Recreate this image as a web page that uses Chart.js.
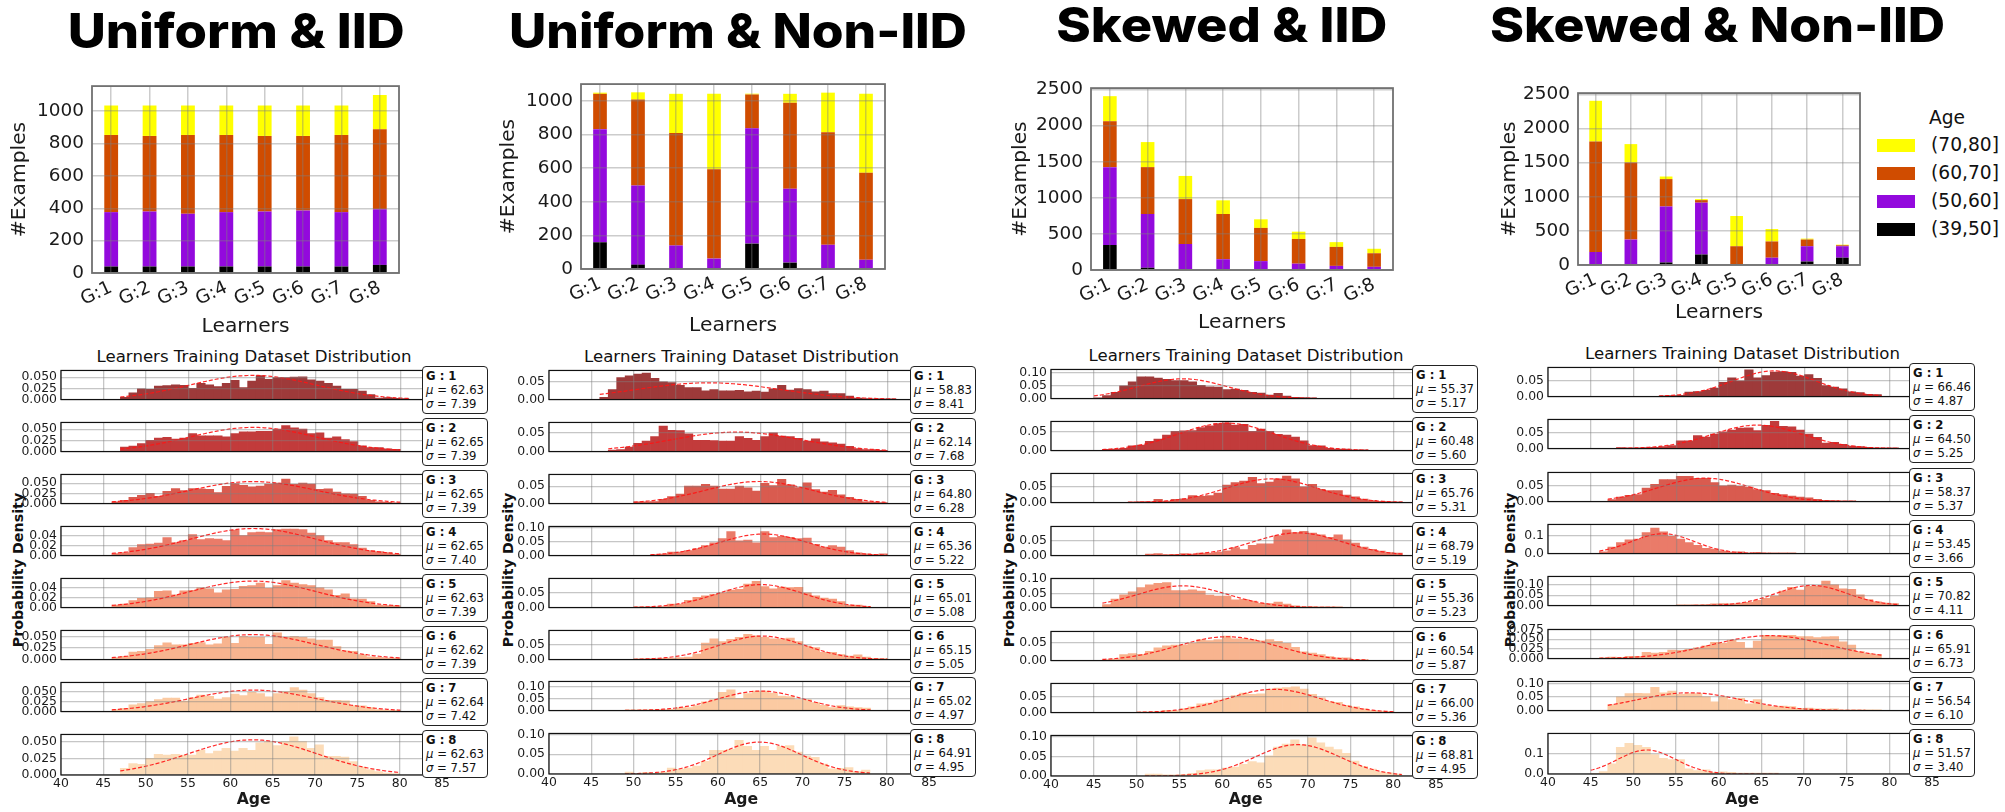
<!DOCTYPE html>
<html>
<head>
<meta charset="utf-8">
<script src="https://cdn.jsdelivr.net/npm/chart.js@4.4.1/dist/chart.umd.min.js"></script>
<style>
  body { margin: 0; background: #fff; }
  #page { position: relative; width: 2005px; height: 812px; overflow: hidden; font-family: 'DejaVu Sans'; color: #111; }
  canvas { position: absolute; }
  .title { position: absolute; left: 0; top: 0; white-space: nowrap; font-family: Inter; font-weight: 800; font-size: 48px; line-height: 48px; color: #000; transform-origin: center; }
  .sub { position: absolute; font-size: 16.4px; line-height: 18px; white-space: nowrap; transform: translateX(-50%); }
  .ylab { position: absolute; font-weight: bold; font-size: 14.2px; line-height: 16px; white-space: nowrap; transform: translate(-50%, -50%) rotate(-90deg); }
  .box { position: absolute; width: 66px; box-sizing: border-box; border: 1px solid #222; border-radius: 4px; background: #fff; font-size: 12px; line-height: 14px; padding: 2px 0 0 3px; white-space: nowrap; }
  .legend { position: absolute; font-size: 18.5px; line-height: 22px; white-space: nowrap; }
  .patch { position: absolute; width: 38px; height: 13px; }
</style>
</head>
<body>
<div id="page"></div>
<script>
// ---------- data ----------
const panelTitles = ['Uniform & IID', 'Uniform & Non-IID', 'Skewed & IID', 'Skewed & Non-IID'];
const learners = ['G:1', 'G:2', 'G:3', 'G:4', 'G:5', 'G:6', 'G:7', 'G:8'];
const ageGroups = ['(39,50]', '(50,60]', '(60,70]', '(70,80]'];

// #Examples per learner and age group
const uniIid39 = [40, 40, 40, 40, 40, 40, 40, 50];
const uniIid50 = [336, 340, 326, 336, 340, 346, 336, 344];
const uniIid60 = [477, 467, 487, 477, 467, 461, 477, 494];
const uniIid70 = [182, 188, 182, 182, 188, 188, 182, 212];

const uniNon39 = [159, 26, 0, 0, 151, 38, 0, 0];
const uniNon50 = [673, 471, 140, 62, 686, 440, 144, 55];
const uniNon60 = [210, 511, 669, 532, 201, 511, 669, 518];
const uniNon70 = [7, 43, 233, 448, 5, 53, 236, 469];

const skwIid39 = [346, 31, 0, 0, 0, 0, 0, 0];
const skwIid50 = [1079, 745, 360, 149, 123, 88, 57, 44];
const skwIid60 = [636, 649, 622, 627, 460, 342, 263, 188];
const skwIid70 = [347, 347, 321, 189, 119, 101, 66, 62];

const skwNon39 = [0, 0, 37, 154, 0, 0, 51, 107];
const skwNon50 = [191, 373, 821, 760, 0, 107, 224, 168];
const skwNon60 = [1619, 1129, 401, 37, 275, 238, 98, 14];
const skwNon70 = [597, 270, 38, 15, 443, 182, 14, 9];

const barYMax = [1155, 1100, 2520, 2520];
const barYTicks = [
  [0, 200, 400, 600, 800, 1000],
  [0, 200, 400, 600, 800, 1000],
  [0, 500, 1000, 1500, 2000, 2500],
  [0, 500, 1000, 1500, 2000, 2500]
];

// age histograms (density per 1-year bin), first bin start age, fit parameters
const ageTicks = [40, 45, 50, 55, 60, 65, 70, 75, 80, 85];

const uniIidStart = [47, 47, 46, 46, 46, 46, 46, 47];
const uniIidDens = [
  [0.005,0.015,0.024,0.023,0.03,0.031,0.033,0.032,0.025,0.036,0.033,0.029,0.036,0.043,0.027,0.041,0.0535,0.045,0.049,0.049,0.05,0.051,0.044,0.041,0.036,0.03,0.023,0.023,0.019,0.011,0.003,0.0045,0.0025,0.002],
  [0.01,0.012,0.018,0.025,0.03,0.032,0.028,0.03,0.04,0.035,0.035,0.035,0.033,0.04,0.044,0.044,0.045,0.045,0.05,0.058,0.053,0.05,0.04,0.042,0.03,0.033,0.027,0.022,0.013,0.009,0.009,0.006,0.005],
  [0.004,0.008,0.015,0.02,0.025,0.018,0.03,0.037,0.032,0.037,0.036,0.035,0.027,0.042,0.049,0.045,0.041,0.043,0.048,0.05,0.06,0.047,0.05,0.048,0.035,0.036,0.028,0.024,0.023,0.018,0.008,0.004,0.003,0.002],
  [0.004,0.006,0.016,0.022,0.023,0.025,0.036,0.026,0.03,0.042,0.032,0.034,0.033,0.03,0.051,0.04,0.046,0.047,0.046,0.052,0.053,0.053,0.052,0.045,0.04,0.03,0.026,0.026,0.022,0.015,0.01,0.008,0.006,0.003],
  [0.005,0.007,0.014,0.019,0.02,0.033,0.034,0.026,0.034,0.035,0.04,0.038,0.03,0.036,0.037,0.043,0.045,0.05,0.039,0.045,0.055,0.05,0.047,0.045,0.04,0.036,0.025,0.028,0.018,0.017,0.012,0.005,0.004,0.004],
  [0.004,0.007,0.016,0.018,0.022,0.03,0.036,0.032,0.032,0.035,0.037,0.032,0.034,0.048,0.035,0.05,0.048,0.048,0.033,0.058,0.048,0.05,0.048,0.045,0.042,0.042,0.028,0.019,0.018,0.011,0.006,0.005,0.003,0.003],
  [0.005,0.008,0.017,0.02,0.025,0.03,0.034,0.034,0.026,0.035,0.041,0.038,0.031,0.035,0.044,0.04,0.048,0.045,0.037,0.045,0.05,0.06,0.054,0.045,0.035,0.028,0.028,0.027,0.015,0.014,0.01,0.005,0.003,0.003],
  [0.01,0.017,0.016,0.025,0.031,0.03,0.031,0.03,0.03,0.037,0.032,0.036,0.04,0.036,0.04,0.037,0.048,0.05,0.044,0.05,0.057,0.05,0.04,0.045,0.028,0.028,0.027,0.02,0.012,0.008,0.005,0.003,0.002]
];
const uniIidMu = [62.63, 62.65, 62.65, 62.65, 62.63, 62.62, 62.64, 62.63];
const uniIidSigma = [7.39, 7.39, 7.39, 7.40, 7.39, 7.39, 7.42, 7.57];
const uniIidYMax = [0.065, 0.065, 0.0714, 0.058, 0.0593, 0.063, 0.0728, 0.0607];
const uniIidYStep = [0.025, 0.025, 0.025, 0.02, 0.02, 0.025, 0.025, 0.025];
const uniIidYDec = [3, 3, 3, 2, 2, 3, 3, 3];

const uniNonStart = [46, 47, 50, 52, 50, 50, 49, 49];
const uniNonDens = [
  [0.006,0.028,0.062,0.067,0.072,0.075,0.06,0.05,0.048,0.04,0.034,0.034,0.025,0.028,0.025,0.025,0.026,0.022,0.024,0.021,0.03,0.04,0.027,0.031,0.028,0.022,0.024,0.017,0.017,0.01,0.004,0.003,0.002,0.002,0.002],
  [0.004,0.005,0.012,0.022,0.028,0.04,0.068,0.057,0.056,0.047,0.03,0.03,0.029,0.028,0.028,0.04,0.035,0.03,0.04,0.05,0.041,0.04,0.035,0.028,0.034,0.026,0.023,0.02,0.014,0.008,0.005,0.005,0.003],
  [0.005,0.005,0.006,0.012,0.02,0.027,0.05,0.05,0.055,0.05,0.042,0.042,0.05,0.045,0.036,0.058,0.052,0.07,0.054,0.046,0.06,0.04,0.033,0.038,0.025,0.018,0.012,0.005,0.004,0.003],
  [0.003,0.005,0.012,0.012,0.018,0.025,0.035,0.045,0.06,0.085,0.052,0.055,0.045,0.085,0.064,0.068,0.065,0.06,0.062,0.04,0.03,0.035,0.03,0.018,0.01,0.006,0.004,0.006],
  [0.002,0.002,0.002,0.003,0.012,0.012,0.025,0.035,0.04,0.045,0.05,0.06,0.062,0.08,0.09,0.072,0.064,0.07,0.068,0.069,0.05,0.04,0.032,0.029,0.02,0.008,0.008,0.004],
  [0.002,0.003,0.003,0.004,0.005,0.007,0.008,0.018,0.055,0.07,0.06,0.068,0.075,0.085,0.08,0.075,0.07,0.07,0.072,0.06,0.045,0.04,0.024,0.024,0.017,0.012,0.016,0.008,0.004,0.003],
  [0.002,0.003,0.003,0.003,0.004,0.005,0.012,0.012,0.02,0.036,0.045,0.075,0.085,0.05,0.07,0.08,0.08,0.072,0.06,0.058,0.045,0.045,0.033,0.022,0.012,0.02,0.015,0.012,0.01],
  [0.005,0.002,0.004,0.001,0.005,0.015,0.012,0.015,0.02,0.032,0.06,0.06,0.062,0.085,0.07,0.06,0.07,0.06,0.07,0.072,0.055,0.045,0.042,0.025,0.013,0.014,0.016,0.006,0.01]
];
const uniNonMu = [58.83, 62.14, 64.80, 65.36, 65.01, 65.15, 65.02, 64.91];
const uniNonSigma = [8.41, 7.68, 6.28, 5.22, 5.08, 5.05, 4.97, 4.95];
const uniNonYMax = [0.0823, 0.0777, 0.0838, 0.1032, 0.0995, 0.0978, 0.12, 0.1023];
const uniNonYStep = [0.05, 0.05, 0.05, 0.05, 0.05, 0.05, 0.05, 0.05];
const uniNonYDec = [2, 2, 2, 2, 2, 2, 2, 2];

const skwIidStart = [45, 46, 49, 51, 46, 46, 50, 51];
const skwIidDens = [
  [0.002,0.012,0.024,0.05,0.065,0.085,0.085,0.08,0.075,0.07,0.07,0.065,0.052,0.046,0.045,0.035,0.037,0.032,0.024,0.021,0.014,0.02,0.01,0.005,0.004,0.003],
  [0.003,0.004,0.006,0.012,0.014,0.024,0.03,0.04,0.05,0.051,0.052,0.06,0.064,0.07,0.072,0.066,0.068,0.05,0.056,0.05,0.042,0.04,0.035,0.025,0.013,0.012,0.006,0.004,0.004,0.002,0.002],
  [0.002,0.003,0.003,0.01,0.005,0.01,0.012,0.022,0.02,0.022,0.03,0.055,0.063,0.068,0.08,0.06,0.065,0.075,0.084,0.075,0.05,0.058,0.042,0.038,0.038,0.024,0.018,0.011,0.006,0.004,0.003,0.002],
  [0.005,0.007,0.003,0.004,0.007,0.005,0.008,0.008,0.012,0.016,0.027,0.02,0.035,0.04,0.04,0.068,0.087,0.078,0.082,0.076,0.07,0.062,0.07,0.053,0.042,0.029,0.021,0.015,0.01,0.008],
  [0.01,0.03,0.045,0.055,0.07,0.08,0.085,0.088,0.06,0.06,0.062,0.058,0.044,0.04,0.04,0.027,0.029,0.023,0.015,0.014,0.019,0.012,0.006,0.003,0.003,0.002,0.0015,0.001],
  [0.003,0.004,0.017,0.02,0.018,0.026,0.036,0.042,0.044,0.045,0.05,0.06,0.057,0.06,0.07,0.062,0.063,0.06,0.056,0.06,0.055,0.049,0.038,0.025,0.021,0.017,0.011,0.008,0.008,0.003,0.003],
  [0.002,0.002,0.004,0.007,0.006,0.012,0.018,0.028,0.03,0.04,0.045,0.054,0.062,0.058,0.06,0.075,0.078,0.08,0.082,0.075,0.058,0.047,0.035,0.033,0.023,0.018,0.012,0.007,0.005,0.004],
  [0.005,0.005,0.003,0.003,0.004,0.007,0.014,0.016,0.016,0.02,0.023,0.03,0.037,0.034,0.052,0.074,0.082,0.093,0.08,0.098,0.085,0.074,0.068,0.058,0.038,0.025,0.018,0.011,0.008,0.005]
];
const skwIidMu = [55.37, 60.48, 65.76, 68.79, 55.36, 60.54, 66.00, 68.81];
const skwIidSigma = [5.17, 5.60, 5.31, 5.19, 5.23, 5.87, 5.36, 4.95];
const skwIidYMax = [0.1138, 0.0756, 0.0922, 0.0985, 0.1023, 0.083, 0.093, 0.104];
const skwIidYStep = [0.05, 0.05, 0.05, 0.05, 0.05, 0.05, 0.05, 0.05];
const skwIidYDec = [2, 2, 2, 2, 2, 2, 2, 2];

const skwNonStart = [53, 48, 47, 46, 55, 46, 47, 45];
const skwNonDens = [
  [0.002,0.003,0.004,0.014,0.016,0.02,0.027,0.045,0.06,0.05,0.085,0.06,0.067,0.078,0.08,0.077,0.065,0.07,0.058,0.035,0.03,0.025,0.015,0.013,0.007,0.006],
  [0.003,0.002,0.002,0.003,0.004,0.006,0.01,0.025,0.025,0.042,0.037,0.047,0.054,0.06,0.066,0.067,0.058,0.075,0.088,0.072,0.07,0.06,0.047,0.036,0.018,0.02,0.014,0.008,0.006,0.004,0.002,0.002,0.002],
  [0.006,0.014,0.02,0.022,0.043,0.055,0.07,0.07,0.08,0.08,0.074,0.074,0.06,0.05,0.052,0.048,0.046,0.038,0.035,0.026,0.022,0.017,0.014,0.012,0.007,0.004,0.003,0.002,0.002],
  [0.01,0.035,0.06,0.075,0.08,0.115,0.14,0.12,0.095,0.08,0.06,0.045,0.028,0.025,0.014,0.008,0.01,0.004,0.006,0.004,0.004,0.003,0.003],
  [0.002,0.002,0.002,0.005,0.008,0.009,0.008,0.012,0.016,0.025,0.035,0.045,0.07,0.088,0.075,0.093,0.095,0.118,0.1,0.08,0.078,0.052,0.029,0.018,0.012,0.01],
  [0.002,0.004,0.003,0.006,0.006,0.016,0.014,0.016,0.022,0.021,0.024,0.028,0.033,0.042,0.04,0.048,0.042,0.027,0.045,0.06,0.058,0.06,0.06,0.057,0.057,0.054,0.056,0.057,0.043,0.035,0.018,0.013,0.01],
  [0.022,0.05,0.062,0.063,0.062,0.085,0.065,0.072,0.06,0.062,0.062,0.05,0.032,0.05,0.04,0.045,0.025,0.04,0.02,0.015,0.016,0.015,0.008,0.009,0.006,0.005,0.006,0.003,0.003,0.003,0.003,0.003],
  [0.002,0.012,0.05,0.13,0.15,0.14,0.13,0.095,0.076,0.07,0.07,0.025,0.017,0.02,0.008,0.01,0.008,0.005,0.004,0.004,0.004,0.004]
];
const skwNonMu = [66.46, 64.50, 58.37, 53.45, 70.82, 65.91, 56.54, 51.57];
const skwNonSigma = [4.87, 5.25, 5.37, 3.66, 4.11, 6.73, 6.10, 3.40];
const skwNonYMax = [0.0929, 0.0943, 0.0924, 0.16, 0.14, 0.0753, 0.107, 0.198];
const skwNonYStep = [0.05, 0.05, 0.05, 0.1, 0.05, 0.025, 0.05, 0.1];
const skwNonYDec = [2, 2, 2, 1, 2, 3, 2, 1];

// ---------- styling / layout ----------
Chart.defaults.font.family = 'DejaVu Sans';
Chart.defaults.color = '#1a1a1a';
const ageColors = ['#000000', 'rgb(147,9,221)', 'rgb(208,76,0)', '#ffff00'];
const rowColors = ['#9e3a3a', '#c23b3b', '#d95b4f', '#ea7b69', '#f39a7b', '#f8b48f', '#fbcaa2', '#fcdcb8'];

const page = document.getElementById('page');

// font sizes chosen so that sample strings get the widths measured on the original
const mctx = document.createElement('canvas').getContext('2d');
function fitSize(text, size, weight, target) {
  mctx.font = weight + ' ' + size + 'px DejaVu Sans';
  return size * target / mctx.measureText(text).width;
}
function fitEl(el, target) {
  const w = el.getBoundingClientRect().width;
  const fs = parseFloat(getComputedStyle(el).fontSize);
  return fs * target / w;
}
const topTickSize = fitSize('1000', 18.5, 'normal', 47);
const topTitleSize = fitSize('Learners', 20, 'normal', 88);
const histTickSize = fitSize('0.050', 12.5, 'normal', 35.6);
const ageTitleSize = fitSize('Age', 16, 'bold', 34);

const framePlugin = {
  id: 'frame',
  afterDraw(chart) {
    const o = chart.config.options.plugins.frame;
    const a = chart.chartArea;
    const ctx = chart.ctx;
    ctx.save();
    ctx.strokeStyle = o.color;
    ctx.lineWidth = o.width;
    ctx.strokeRect(a.left, a.top, a.right - a.left, a.bottom - a.top);
    ctx.restore();
  }
};

function addCanvas(left, top, w, h) {
  const c = document.createElement('canvas');
  c.width = w; c.height = h;
  c.style.left = left + 'px'; c.style.top = top + 'px';
  c.style.width = w + 'px'; c.style.height = h + 'px';
  page.appendChild(c);
  return c;
}

function addDiv(cls, html, css) {
  const d = document.createElement('div');
  d.className = cls;
  d.innerHTML = html;
  Object.assign(d.style, css);
  page.appendChild(d);
  return d;
}

// ---------- stacked bar charts ----------
const barGroups = [
  [uniIid39, uniIid50, uniIid60, uniIid70],
  [uniNon39, uniNon50, uniNon60, uniNon70],
  [skwIid39, skwIid50, skwIid60, skwIid70],
  [skwNon39, skwNon50, skwNon60, skwNon70]
];
const barArea = [[92, 77, 399, 273], [581, 75, 885, 269], [1091, 79, 1393, 270], [1578, 84, 1860, 265]];
const yTitleX = [20, 509, 1021, 1510];
const xTitleY = [327, 326, 323, 313];

barGroups.forEach((groups, col) => {
  const [l, t, r, b] = barArea[col];
  const cl = l - 92, ct = t - 10;
  const w = 92 + (r - l) + 6, h = 10 + (b - t) + 70;
  const canvas = addCanvas(cl, ct, w, h);
  const tickFont = { size: topTickSize };
  const lh = topTitleSize * 1.2 / 2;
  new Chart(canvas, {
    type: 'bar',
    data: {
      labels: learners,
      datasets: groups.map((vals, k) => ({
        label: ageGroups[k], data: vals, backgroundColor: ageColors[k],
        borderWidth: 0, barPercentage: 0.36, categoryPercentage: 1
      }))
    },
    options: {
      responsive: false, animation: false, devicePixelRatio: 1,
      layout: { padding: { top: 10, right: 6, left: 0, bottom: 0 } },
      plugins: { legend: { display: false }, tooltip: { enabled: false }, frame: { color: '#707070', width: 1.8 } },
      scales: {
        x: {
          stacked: true, offset: true,
          grid: { offset: false, color: 'rgba(128,128,128,0.4)', lineWidth: 1.5, z: 1, drawTicks: false },
          border: { display: false },
          ticks: { minRotation: 25, maxRotation: 25, font: tickFont, padding: 4, autoSkip: false },
          title: { display: true, text: 'Learners', font: { size: topTitleSize }, padding: { top: 0, bottom: b + 70 - lh - xTitleY[col] } },
          afterFit: s => { s.height = 70; }
        },
        y: {
          stacked: true, min: 0, max: barYMax[col],
          grid: { color: 'rgba(128,128,128,0.4)', lineWidth: 1.5, z: 1, drawTicks: false },
          border: { display: false },
          afterBuildTicks: s => { s.ticks = barYTicks[col].map(v => ({ value: v })); },
          ticks: { font: tickFont, padding: 8, autoSkip: false, callback: v => String(v) },
          title: { display: true, text: '#Examples', font: { size: topTitleSize }, padding: { top: yTitleX[col] - cl - lh, bottom: 0 } },
          afterFit: s => { s.width = 92; }
        }
      }
    },
    plugins: [framePlugin]
  });
});

// legend
const legTitle = addDiv('legend', 'Age', { left: '1929px', top: '107px' });
const legItems = [legTitle];
[3, 2, 1, 0].forEach((k, j) => {
  const cy = 145 + j * 28;
  addDiv('patch', '', { left: '1877px', top: (cy - 6.5) + 'px', background: ageColors[k] });
  legItems.push(addDiv('legend', ageGroups[k], { left: '1931px', top: (cy - 11) + 'px' }));
});
const legSize = fitEl(legItems[1], 68);
legItems.forEach(el => { el.style.fontSize = legSize + 'px'; });

// ---------- histograms ----------
const histStart = [uniIidStart, uniNonStart, skwIidStart, skwNonStart];
const histDens = [uniIidDens, uniNonDens, skwIidDens, skwNonDens];
const histMu = [uniIidMu, uniNonMu, skwIidMu, skwNonMu];
const histSigma = [uniIidSigma, uniNonSigma, skwIidSigma, skwNonSigma];
const histYMax = [uniIidYMax, uniNonYMax, skwIidYMax, skwNonYMax];
const histYStep = [uniIidYStep, uniNonYStep, skwIidYStep, skwNonYStep];
const histYDec = [uniIidYDec, uniNonYDec, skwIidYDec, skwNonYDec];

const histLeft = [61, 549, 1051, 1548];
const histPxPerYear = [8.48, 8.47, 8.57, 8.54];
const histTop0 = [367, 367, 365.5, 364];
const histPitch = [52, 51.9, 52.4, 52.3];
const histH = 44;
const subs = [], ylabs = [], boxLines = [], boxes = [];

for (let col = 0; col < 4; col++) {
  const L = histLeft[col];
  const areaW = Math.round(45.5 * histPxPerYear[col]);
  subs.push(addDiv('sub', 'Learners Training Dataset Distribution', { left: (L + areaW / 2) + 'px', top: (histTop0[col] - 19) + 'px' }));
  ylabs.push(addDiv('ylab', 'Probability Density', { left: [18, 508, 1009, 1510][col] + 'px', top: '570px' }));

  for (let i = 0; i < 8; i++) {
    const isBottom = i === 7;
    const top = Math.round(histTop0[col] + i * histPitch[col]);
    const xH = isBottom ? 38 : 0;
    const canvas = addCanvas(L - 60, top - 8, 60 + areaW + 4, 8 + histH + xH);
    const start = histStart[col][i];
    const dens = histDens[col][i];
    const mu = histMu[col][i], sd = histSigma[col][i];
    const bars = dens.map((v, k) => ({ x: start + k + 0.5, y: v }));
    // fitted normal curve using the printed mean and std
    const curve = [];
    for (let a = start; a <= start + dens.length + 1e-9; a += 0.25) {
      curve.push({ x: a, y: Math.exp(-0.5 * ((a - mu) / sd) ** 2) / (sd * Math.sqrt(2 * Math.PI)) });
    }
    const yMax = histYMax[col][i], yStep = histYStep[col][i], yDec = histYDec[col][i];
    new Chart(canvas, {
      type: 'bar',
      data: {
        datasets: [
          { type: 'line', data: curve, borderColor: 'rgba(255,20,20,0.9)', borderWidth: 1.2, borderDash: [4, 2], pointRadius: 0, order: 0 },
          { type: 'bar', data: bars, backgroundColor: rowColors[i], borderWidth: 0, barPercentage: 1, categoryPercentage: 1, order: 1 }
        ]
      },
      options: {
        responsive: false, animation: false, devicePixelRatio: 1,
        layout: { padding: { top: 8, right: 4, left: 0, bottom: 0 } },
        plugins: { legend: { display: false }, tooltip: { enabled: false }, frame: { color: '#111', width: 1.2 } },
        scales: {
          x: {
            type: 'linear', min: 40, max: 85.5, offset: false,
            grid: { offset: false, color: 'rgba(128,128,128,0.45)', lineWidth: 1.3, z: 1, drawTicks: false },
            border: { display: false },
            afterBuildTicks: s => { s.ticks = ageTicks.map(v => ({ value: v })); },
            ticks: { display: isBottom, font: { size: histTickSize }, padding: 1, maxRotation: 0, autoSkip: false },
            title: { display: isBottom, text: 'Age', font: { size: ageTitleSize, weight: 'bold' }, padding: { top: 0, bottom: top + histH + 38 - ageTitleSize * 0.6 - 800 } },
            afterFit: s => { s.height = xH; }
          },
          y: {
            min: 0, max: yMax,
            grid: { color: 'rgba(128,128,128,0.45)', lineWidth: 1.3, z: 1, drawTicks: false },
            border: { display: false },
            afterBuildTicks: s => {
              const t = [];
              for (let v = 0; v <= yMax + 1e-9; v += yStep) t.push({ value: v });
              s.ticks = t;
            },
            ticks: { font: { size: histTickSize }, padding: 4, autoSkip: false, callback: v => Number(v).toFixed(yDec) },
            afterFit: s => { s.width = 60; }
          }
        }
      },
      plugins: [framePlugin]
    });

    const box = addDiv('box',
      '<b>G : ' + (i + 1) + '</b><br><span><i>μ</i> = ' + mu.toFixed(2) + '</span><br><i>σ</i> = ' + sd.toFixed(2),
      { left: (L + 361) + 'px', top: (top - 1) + 'px', height: (histH + 3.5) + 'px' });
    boxes.push(box);
    boxLines.push(box.querySelector('span'));
  }
}

// match text sizes of the original
const subSize = fitEl(subs[0], 315);
subs.forEach(el => { el.style.fontSize = subSize + 'px'; });
const ylabSize = ylabs[0].offsetWidth ? parseFloat(getComputedStyle(ylabs[0]).fontSize) * 154 / ylabs[0].offsetWidth : 14.2;
ylabs.forEach(el => { el.style.fontSize = ylabSize + 'px'; });
const boxSize = fitEl(boxLines[0], 58);
boxes.forEach(el => { el.style.fontSize = boxSize + 'px'; });

// ---------- big titles ----------
const titleCx = [236.5, 738, 1222, 1718];
const titleW = [337, 458, 331, 455];
const titleBase = [48, 48, 42, 42];
panelTitles.forEach((txt, k) => {
  const d = document.createElement('div');
  d.className = 'title';
  d.textContent = txt;
  const mark = document.createElement('span');
  mark.style.cssText = 'display:inline-block;width:0;height:0;';
  d.appendChild(mark);
  page.appendChild(d);
  const r = d.getBoundingClientRect();
  const base = mark.getBoundingClientRect().bottom - r.top;
  d.style.left = (titleCx[k] - r.width / 2) + 'px';
  d.style.top = (titleBase[k] - base) + 'px';
  d.style.transform = 'scaleX(' + (titleW[k] / r.width) + ')';
});
</script>
</body>
</html>
